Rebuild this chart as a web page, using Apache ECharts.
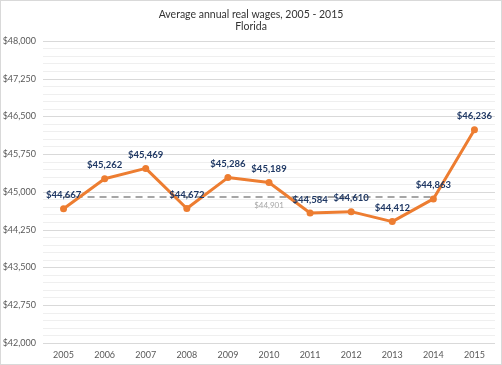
<!DOCTYPE html>
<html><head><meta charset="utf-8">
<script src="https://cdn.jsdelivr.net/npm/echarts@6/dist/echarts.min.js"></script>
<style>html,body{margin:0;padding:0;background:#fff}#c{position:absolute;left:0;top:0;width:500px;height:363px;border:1px solid #d9d9d9}</style>
</head><body><div id="c"></div>
<script>
const years = ['2005','2006','2007','2008','2009','2010','2011','2012','2013','2014','2015'];
const wages = [44667,45262,45469,44672,45286,45189,44584,44610,44412,44863,46236];
const avgValue = 44901;
const avgYears = ['2005','2006','2007','2008','2009','2010','2011','2012','2013','2014'];
const avgLabelYear = '2010';
const yTicks = [42000,42750,43500,44250,45000,45750,46500,47250,48000];

const fmt = v => '$' + v.toLocaleString('en-US');
const chart = echarts.init(document.getElementById('c'));
const FONT = 'Lato';
chart.setOption({
  animation:false,
  textStyle:{fontFamily:FONT},
  title:{text:'Average annual real wages, 2005 - 2015\nFlorida',left:'center',top:3,
    textStyle:{fontFamily:FONT,fontSize:10.5,fontWeight:'normal',color:'#333333',lineHeight:12}},
  grid:{left:42,right:6,top:40,bottom:21,containLabel:false,outerBoundsMode:'none'},
  xAxis:{type:'category',data:years,boundaryGap:true,
    axisLine:{show:false},axisTick:{show:false},
    axisLabel:{color:'#595959',fontSize:9,margin:8,fontFamily:FONT}},
  yAxis:{type:'value',min:yTicks[0],max:yTicks[yTicks.length-1],interval:750,
    axisLine:{show:false},axisTick:{show:false},
    axisLabel:{color:'#595959',fontSize:9,margin:7,fontFamily:FONT,formatter:v=>fmt(v)},
    splitLine:{lineStyle:{color:'#d9d9d9',width:1}},
    minorTick:{show:false,splitNumber:5},
    minorSplitLine:{show:true,lineStyle:{color:'#efefef',width:1}}},
  series:[
    {type:'line',data:avgYears.map(y=>[y,avgValue]),symbol:'none',z:1,
      lineStyle:{color:'#a6a6a6',width:2,type:[7,5]},
      markPoint:{symbol:'circle',symbolSize:0,data:[{coord:[avgLabelYear,avgValue],value:avgValue}],
        label:{show:true,position:'bottom',distance:4,formatter:p=>fmt(p.value),color:'#a6a6a6',fontSize:8,fontFamily:FONT}}},
    {type:'line',data:wages,symbol:'circle',symbolSize:7,z:3,
      itemStyle:{color:'#ED7D31'},lineStyle:{color:'#ED7D31',width:3},
      label:{show:true,position:'top',distance:5,formatter:p=>fmt(p.value),color:'#1f3864',fontSize:9.5,fontWeight:'bold',fontFamily:FONT}}
  ]
});
</script></body></html>
